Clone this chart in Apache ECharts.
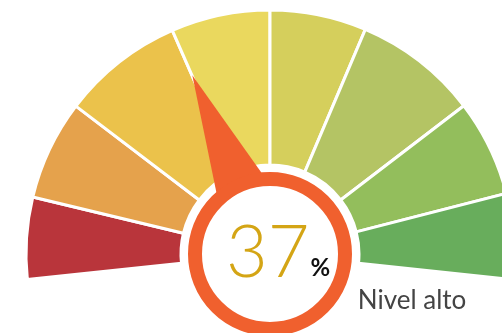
<!DOCTYPE html>
<html>
<head>
<meta charset="utf-8">
<script src="https://cdn.jsdelivr.net/npm/echarts@6/dist/echarts.min.js"></script>
<style>
  html, body { margin: 0; padding: 0; background: #fff; }
  #gauge { width: 502px; height: 333px; }
</style>
</head>
<body>
<div id="gauge"></div>
<script>
var myChart = echarts.init(document.getElementById('gauge'));

// band spans in degrees, from the left end going clockwise
const bandSpans = [19.5, 23.8, 29.1, 23.6, 23, 29.6, 23, 20.4];
const bandColors = ['#B9353B', '#E5A24C', '#EBC24B', '#EAD85E', '#D5CF5C', '#B4C464', '#93BE5C', '#68AD5C'];
const gaugeValue = 37;
const gaugeLabel = 'Nivel alto';

const startAngle = 186;
const endAngle = -10;
const center = [270, 254];

let bandData = bandSpans.map((v, i) => ({ value: v, itemStyle: { color: bandColors[i] } }));
// hidden rest of the circle
bandData.push({ value: 360 - bandSpans.reduce((a, b) => a + b, 0), itemStyle: { color: 'transparent', borderWidth: 0 } });

const hiddenAxis = {
    axisLine: { show: false },
    axisTick: { show: false },
    splitLine: { show: false },
    axisLabel: { show: false }
};

option = {
    animation: false,
    series: [
        {
            type: 'pie',
            z: 1,
            center: center,
            radius: [89, 244],
            startAngle: startAngle,
            clockwise: true,
            silent: true,
            label: { show: false },
            labelLine: { show: false },
            itemStyle: { borderColor: '#fff', borderWidth: 3 },
            data: bandData
        },
        Object.assign({
            type: 'gauge',
            z: 5,
            center: center,
            radius: 195,
            startAngle: startAngle,
            endAngle: endAngle,
            min: 0,
            max: 100,
            pointer: {
                icon: 'triangle',
                length: 195,
                width: 82,
                offsetCenter: [0, 0],
                itemStyle: { color: '#F0602E' }
            },
            anchor: {
                show: true,
                showAbove: true,
                size: 150,
                itemStyle: { color: '#fff', borderColor: '#F0602E', borderWidth: 14 }
            },
            title: { show: false },
            detail: { show: false },
            data: [{ value: gaugeValue, name: gaugeLabel }]
        }, hiddenAxis),
        Object.assign({
            type: 'gauge',
            z: 10,
            center: center,
            radius: 195,
            startAngle: startAngle,
            endAngle: endAngle,
            min: 0,
            max: 100,
            pointer: { show: false },
            anchor: { show: false },
            title: {
                offsetCenter: [142, 47],
                color: '#444',
                fontFamily: 'Lato',
                fontSize: 26
            },
            detail: {
                offsetCenter: [8, 0],
                formatter: '{v|{value}}{p|%}',
                rich: {
                    v: { color: '#D4A515', fontFamily: 'Lato', fontWeight: 300, fontSize: 72, lineHeight: 72 },
                    p: { color: '#111', fontFamily: 'Lato', fontWeight: 'bold', fontSize: 24, lineHeight: 24, verticalAlign: 'bottom', padding: [0, 0, 10, 1] }
                }
            },
            data: [{ value: gaugeValue, name: gaugeLabel }]
        }, hiddenAxis)
    ]
};

myChart.setOption(option, true);
</script>
</body>
</html>
